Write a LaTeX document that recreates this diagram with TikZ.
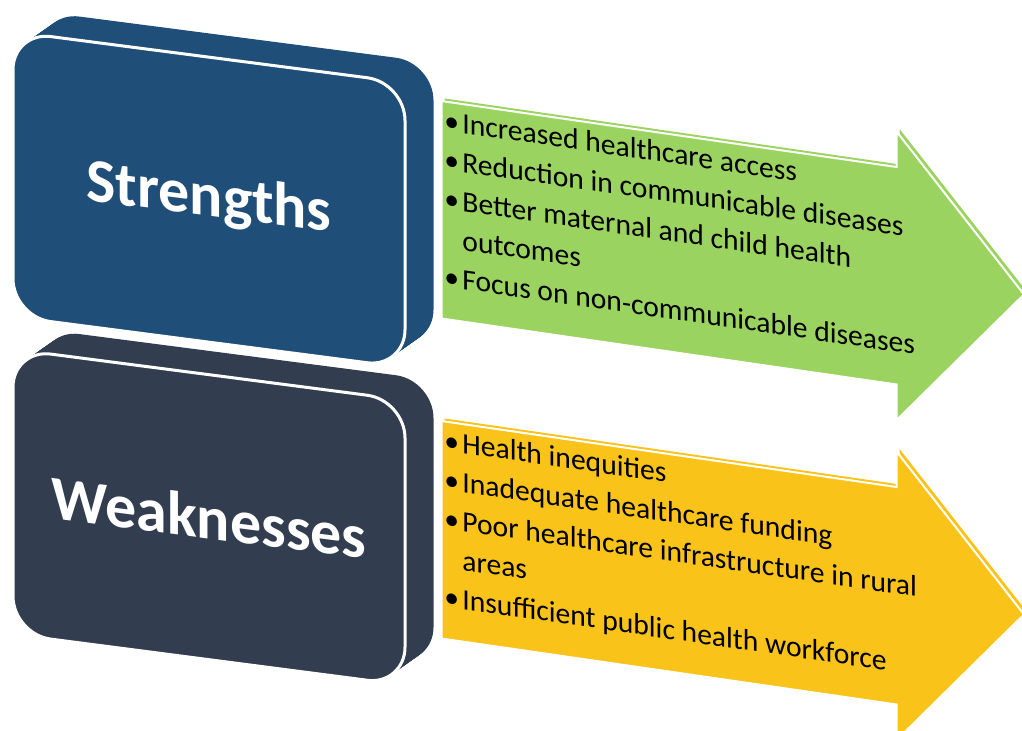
\documentclass[tikz,border=0pt]{standalone}
\usepackage{fontspec}
\setmainfont{Carlito}
\usepackage{tikz}
\usetikzlibrary{positioning}
\definecolor{SWblue}{RGB}{31,78,121}
\definecolor{SWslate}{RGB}{50,62,79}
\definecolor{SWgreen}{RGB}{155,211,96}
\definecolor{SWyellow}{RGB}{250,195,26}
% one bullet point, and a wrapped line under its text
\newcommand{\bitem}[1]{\noindent\makebox[9pt][l]{\textbullet}#1\par}
\newcommand{\bmore}[1]{\noindent\hspace*{9pt}#1\par}
\tikzset{
  sw/face/.style={draw=white, line width=1.5pt, rounded corners=19pt, minimum width=196pt, minimum height=142.5pt, inner sep=0pt, transform shape},
  sw/depth/.style={sw/face, draw=none},
  sw/title/.style={text=white, font=\bfseries\fontsize{31}{31}\selectfont},
  sw/arrow/.style={draw=white, line width=1pt},
  sw/list/.style={anchor=base west, inner sep=0pt, text width=300pt, align=flush left, transform shape, font=\fontsize{14.8}{19.5}\selectfont}
}

\begin{document}
\begin{tikzpicture}[x=0.5pt, y=-0.5pt]
\useasboundingbox (0,0) rectangle (1022,731);

% 3d boxes on the left
\begin{scope}[yslant=-0.13]
\foreach \t in {0.05,0.1,...,1}
  \node[sw/depth, fill=SWslate] at (209+30*\t, 490-25*\t) {};
\node[sw/face, fill=SWslate, sw/title] (weak) at (209,490) {Weaknesses};
\foreach \t in {0.05,0.1,...,1}
  \node[sw/depth, fill=SWblue] at (209+30*\t, 172.5-25*\t) {};
\node[sw/face, fill=SWblue, sw/title] (strong) at (209,172.5) {Strengths};
\end{scope}

% arrows with the lists
\begin{scope}[yslant=-0.145]
\foreach \dy/\col in {0/SWgreen, 320/SWyellow} {
  \fill[\col, shift={(3,-3)}] (441.7,37+\dy) -- (896.7,37+\dy) -- (896.7,1.7+\dy) -- (1024,146+\dy)
    -- (896.7,290+\dy) -- (896.7,254.5+\dy) -- (441.7,254.5+\dy) -- cycle;
  \filldraw[sw/arrow, fill=\col] (441.7,37+\dy) -- (896.7,37+\dy) -- (896.7,1.7+\dy) -- (1024,146+\dy)
    -- (896.7,290+\dy) -- (896.7,254.5+\dy) -- (441.7,254.5+\dy) -- cycle;
}
\node[sw/list] (slist) at (444,66) {%
  \bitem{Increased healthcare access}%
  \bitem{Reduction in communicable diseases}%
  \bitem{Better maternal and child health}%
  \bmore{outcomes}%
  \bitem{Focus on non-communicable diseases}};
\node[sw/list] (wlist) at (444,386) {%
  \bitem{Health inequities}%
  \bitem{Inadequate healthcare funding}%
  \bitem{Poor healthcare infrastructure in rural}%
  \bmore{areas}%
  \bitem{Insufficient public health workforce}};
\end{scope}
\end{tikzpicture}
\end{document}
